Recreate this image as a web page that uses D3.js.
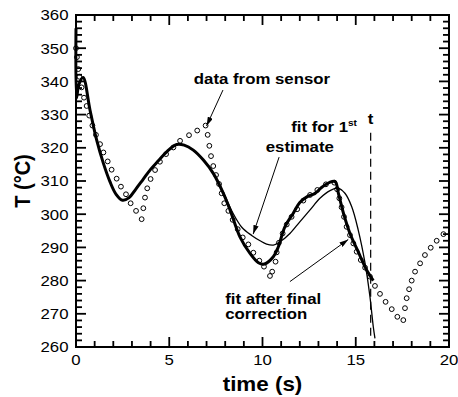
<!DOCTYPE html>
<html>
<head>
<meta charset="utf-8">
<script src="https://cdn.jsdelivr.net/npm/d3@7"></script>
<style>
  body { margin: 0; background: #fff; }
  text { font-family: "Liberation Sans", Arial, sans-serif; fill: #000; }
</style>
</head>
<body>
<div id="chart"></div>
<script>
// measured sensor temperatures [time (s), T (°C)]
const sensorData = [
  [0,350],[0.05,347.3],[0.12,343.7],[0.18,341.4],[0.3,338.2],[0.43,335.1],[0.57,332.6],[0.71,329.7],
  [0.88,326.7],[1.07,323.9],[1.29,321.1],[1.47,318.6],[1.7,315.9],[1.91,313.4],[2.18,310.7],[2.41,308.3],
  [2.68,306],[2.93,303.3],[3.22,301],[3.52,298.5],[3.61,301.8],[3.7,305],[3.82,307.8],[4.0,310.6],
  [4.24,313.3],[4.5,315.8],[4.83,318.1],[5.22,320.1],[5.58,322.1],[6.06,323.8],[6.5,325.2],[6.95,326.7],
  [7.06,323.9],[7.15,320.6],[7.24,317.5],[7.36,314.5],[7.51,311.8],[7.67,309.1],[7.81,306.3],[7.95,303.3],
  [8.17,301],[8.4,298.3],[8.67,295.5],[8.94,293],[9.24,290.9],[9.51,288.4],[9.83,286],[10.08,284.2],
  [10.4,281.4],[10.52,282.7],[10.7,285.7],[10.76,288.5],[10.88,291.4],[11.08,294.2],[11.3,296.9],[11.56,299.2],
  [11.86,301.5],[12.19,304.1],[12.55,305.8],[12.94,307.3],[13.4,309],[13.85,309.5],[14.0,307.5],[14.12,304.8],
  [14.24,302.1],[14.37,299.2],[14.51,296.2],[14.69,293.7],[14.87,291.2],[15.05,288.7],[15.27,286.2],[15.5,283.9],
  [15.76,281.2],[16.03,278.4],[16.3,276],[16.6,273.6],[16.93,271.4],[17.23,269.1],[17.55,268.1],[17.64,271.7],
  [17.73,274.7],[17.86,277.4],[18.0,280],[18.18,282.7],[18.45,285.2],[18.71,287.7],[19.02,289.9],[19.34,292],
  [19.7,294]
];

// fit for 1st estimate (thin)
const fitFirst = [
  [0,356],[0.03,335],[0.15,339],[0.38,341.2],[0.75,331.4],[1.11,322.3],[1.47,315.3],[1.82,309.8],
  [2.15,306],[2.5,304.2],[2.85,305],[3.2,307.5],[3.6,310.5],[4.0,313.5],[4.4,316],[4.86,318.8],
  [5.4,321],[5.8,320.8],[6.29,319.3],[6.83,316.3],[7.36,312.3],[7.9,306.6],[8.4,300.5],[8.9,296],
  [9.42,293.6],[9.87,292],[10.22,291],[10.58,290.7],[10.94,291.7],[11.47,294.2],[12.0,297.7],[12.55,301.3],
  [13.08,304.8],[13.62,307.1],[14.07,307.8],[14.42,306.3],[14.78,302.3],[15.13,295.3],[15.5,285.2],[15.76,275.2],
  [15.94,266.1],[16.03,262.6]
];

// fit after final correction (thick)
const fitFinal = [
  [0,356],[0.03,335],[0.15,339],[0.38,341.2],[0.75,331.4],[1.11,322.3],[1.47,315.3],[1.82,309.8],
  [2.15,306],[2.5,304.2],[2.85,305],[3.2,307.5],[3.6,310.5],[4.0,313.5],[4.4,316],[4.86,318.8],
  [5.4,321],[5.8,320.8],[6.29,319.3],[6.83,316.3],[7.36,312.3],[7.9,306.3],[8.26,301.3],[8.79,293.2],
  [9.33,288.2],[9.78,285.4],[10.1,285],[10.58,287.2],[10.85,290.2],[11.2,296.2],[11.65,300.3],[12.0,303.5],
  [12.4,305.3],[12.8,306.2],[13.2,308.2],[13.6,309.6],[13.9,309.8],[14.07,306.3],[14.34,300.3],[14.69,294.2],
  [15.13,288.7],[15.58,283.2],[15.94,280]
];

const xTicks = [0, 5, 10, 15, 20];
const yTicks = [260, 270, 280, 290, 300, 310, 320, 330, 340, 350, 360];
const xMinor = d3.range(0, 21, 1);
const yMinor = d3.range(260, 361, 2);
const cutTime = 15.8;

const W = 458, H = 397;
const plotL = 76, plotR = 449, plotT = 15, plotB = 347;
const stretch = 1.12; // source picture is a bit wider than tall

const svg = d3.select("#chart").append("svg")
  .attr("width", W).attr("height", H);

const x = d3.scaleLinear().domain([0, 20]).range([plotL, plotR]);
const y = d3.scaleLinear().domain([260, 360]).range([plotB, plotT]);

// frame
svg.append("rect")
  .attr("x", plotL).attr("y", plotT)
  .attr("width", plotR - plotL).attr("height", plotB - plotT)
  .attr("fill", "none").attr("stroke", "#000").attr("stroke-width", 2);

// inward ticks on all four sides, drawn as small filled bars
const tickLen = (v, list) => list.includes(v) ? 10 : 6;
const tw = 1.8;
const tickG = svg.append("g").attr("fill", "#000");
tickG.selectAll(".xb").data(xMinor).enter().append("rect").attr("class", "xb")
  .attr("x", d => x(d) - tw / 2).attr("y", d => plotB - tickLen(d, xTicks))
  .attr("width", tw).attr("height", d => tickLen(d, xTicks));
tickG.selectAll(".xt").data(xMinor).enter().append("rect").attr("class", "xt")
  .attr("x", d => x(d) - tw / 2).attr("y", plotT)
  .attr("width", tw).attr("height", d => tickLen(d, xTicks));
tickG.selectAll(".yl").data(yMinor).enter().append("rect").attr("class", "yl")
  .attr("x", plotL).attr("y", d => y(d) - tw / 2)
  .attr("width", d => tickLen(d, yTicks)).attr("height", tw);
tickG.selectAll(".yr").data(yMinor).enter().append("rect").attr("class", "yr")
  .attr("x", d => plotR - tickLen(d, yTicks)).attr("y", d => y(d) - tw / 2)
  .attr("width", d => tickLen(d, yTicks)).attr("height", tw);

// tick labels
svg.append("g").selectAll("text")
  .data(xTicks).enter().append("text")
  .attr("transform", d => `translate(${x(d)},${plotB + 18}) scale(${stretch},1)`)
  .attr("text-anchor", "middle").attr("font-size", 15)
  .text(d => d);

svg.append("g").selectAll("text")
  .data(yTicks).enter().append("text")
  .attr("transform", d => `translate(${plotL - 7.5},${y(d) + 5.3}) scale(${stretch},1)`)
  .attr("text-anchor", "end").attr("font-size", 15)
  .text(d => d);

// sensor circles
svg.append("g").selectAll("circle")
  .data(sensorData).enter().append("circle")
  .attr("cx", d => x(d[0])).attr("cy", d => y(d[1]))
  .attr("r", 2.4)
  .attr("fill", "none").attr("stroke", "#000").attr("stroke-width", 1);

const line = d3.line()
  .x(d => x(d[0])).y(d => y(d[1]))
  .curve(d3.curveCatmullRom.alpha(0.5));

svg.append("path").datum(fitFirst)
  .attr("d", line).attr("fill", "none")
  .attr("stroke", "#000").attr("stroke-width", 1.3);

svg.append("path").datum(fitFinal)
  .attr("d", line).attr("fill", "none")
  .attr("stroke", "#000").attr("stroke-width", 3);

// cut-off time
svg.append("line")
  .attr("x1", x(cutTime)).attr("x2", x(cutTime))
  .attr("y1", y(324.5)).attr("y2", y(263))
  .attr("stroke", "#000").attr("stroke-width", 1.2)
  .attr("stroke-dasharray", "8,5");

// arrowhead
svg.append("defs").append("marker")
  .attr("id", "arrow")
  .attr("viewBox", "0 0 10 6")
  .attr("refX", 10).attr("refY", 3)
  .attr("markerWidth", 9).attr("markerHeight", 5.4)
  .attr("markerUnits", "userSpaceOnUse")
  .attr("orient", "auto")
  .append("path").attr("d", "M0,0L10,3L0,6z").attr("fill", "#000");

function arrow(from, to) {
  svg.append("line")
    .attr("x1", x(from[0])).attr("y1", y(from[1]))
    .attr("x2", x(to[0])).attr("y2", y(to[1]))
    .attr("stroke", "#000").attr("stroke-width", 1)
    .attr("marker-end", "url(#arrow)");
}

function label(t, T, str, anchor, size, weight) {
  return svg.append("text")
    .attr("transform", `translate(${x(t)},${y(T)}) scale(${stretch},1)`)
    .attr("text-anchor", anchor)
    .attr("font-size", size)
    .attr("font-weight", weight || "bold")
    .text(str);
}

label(9.97, 339.2, "data from sensor", "middle", 15);
arrow([7.88, 337.4], [7.0, 326.6]);

const first = label(13.3, 324.9, "fit for 1", "middle", 15);
first.append("tspan").attr("font-size", 9).attr("dy", -6).text("st");
label(12.0, 318.8, "estimate", "middle", 15);
arrow([10.89, 317.2], [9.5, 294.0]);

label(8.0, 273, "fit after final", "start", 15);
label(8.0, 268.3, "correction", "start", 15);
arrow([11.47, 279.7], [14.6, 292.4]);

label(cutTime, 327.2, "t", "middle", 15);

// axis titles
svg.append("text")
  .attr("transform", `translate(${(plotL + plotR) / 2},${391}) scale(${stretch},1)`)
  .attr("text-anchor", "middle")
  .attr("font-size", 20).attr("font-weight", "bold")
  .text("time (s)");

svg.append("text")
  .attr("transform", `translate(${30},${(plotT + plotB) / 2}) rotate(-90) scale(1,${stretch})`)
  .attr("text-anchor", "middle")
  .attr("font-size", 20).attr("font-weight", "bold")
  .text("T (°C)");
</script>
</body>
</html>
